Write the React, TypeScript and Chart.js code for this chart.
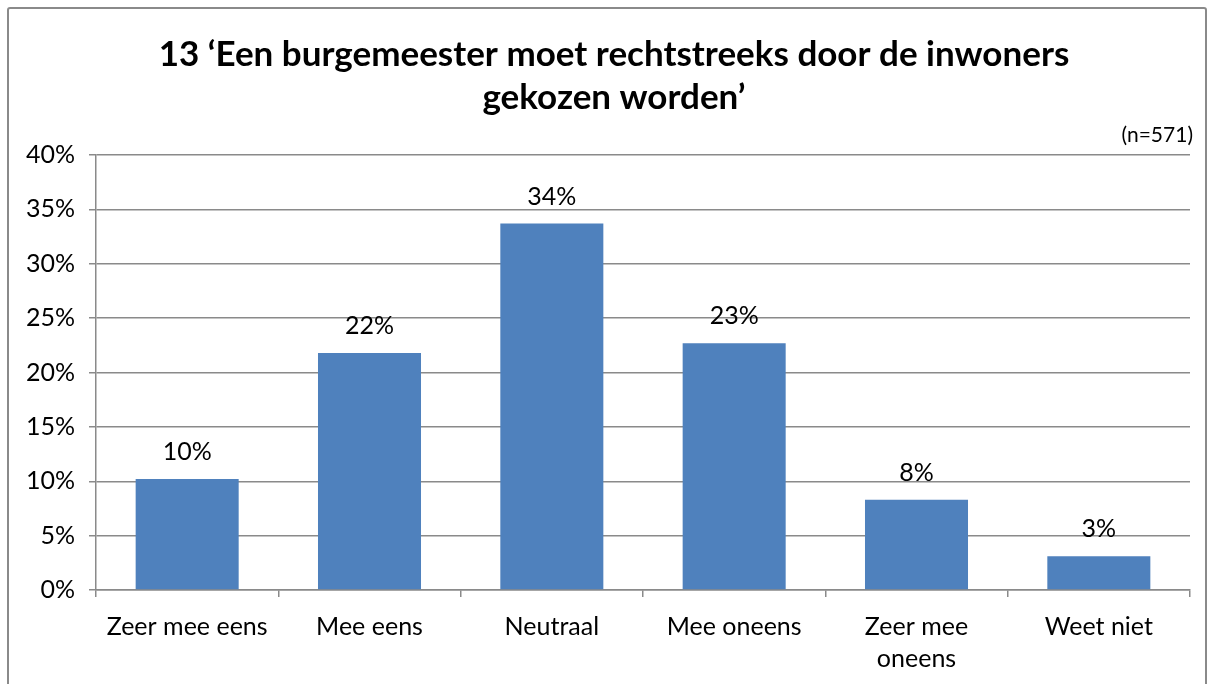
import React, { useEffect, useRef } from "react";
import { Chart, registerables } from "chart.js";

Chart.register(...registerables);

const categories: (string | string[])[] = [
  "Zeer mee eens",
  "Mee eens",
  "Neutraal",
  "Mee oneens",
  ["Zeer mee", "oneens"],
  "Weet niet",
];
const values = [10.2, 21.8, 33.7, 22.7, 8.3, 3.1];
const valueLabels = ["10%", "22%", "34%", "23%", "8%", "3%"];
const yMin = 0;
const yMax = 40;
const yStep = 5;
const titleLines = [
  "13 ‘Een burgemeester moet rechtstreeks door de inwoners",
  "gekozen worden’",
];
const sampleNote = "(n=571)";

const FONT = "Lato, 'Open Sans', sans-serif";
const GRID = "#8a8a8a";

export default function App() {
  const ref = useRef<HTMLCanvasElement | null>(null);

  useEffect(() => {
    if (!ref.current) return;
    const textPlugin = {
      id: "textPlugin",
      afterDraw(chart: any) {
        const ctx = chart.ctx as CanvasRenderingContext2D;
        ctx.save();
        ctx.fillStyle = "#000";
        // title
        ctx.font = `bold 35px ${FONT}`;
        ctx.textAlign = "center";
        ctx.textBaseline = "alphabetic";
        ctx.fillText(titleLines[0], 614, 66);
        ctx.fillText(titleLines[1], 614, 109);
        // sample note
        ctx.font = `21px ${FONT}`;
        ctx.textAlign = "right";
        ctx.fillText(sampleNote, 1193, 142);
        // value labels
        ctx.font = `25px ${FONT}`;
        ctx.textAlign = "center";
        const meta = chart.getDatasetMeta(0);
        meta.data.forEach((bar: any, i: number) => {
          ctx.fillText(valueLabels[i], bar.x, bar.y - 19);
        });
        ctx.restore();
      },
    };

    const chart = new Chart(ref.current, {
      type: "bar",
      data: {
        labels: categories,
        datasets: [
          {
            data: values,
            backgroundColor: "#4F81BD",
            borderWidth: 0,
            categoryPercentage: 1,
            barPercentage: 0.565,
          },
        ],
      },
      options: {
        animation: false,
        responsive: false,
        maintainAspectRatio: false,
        devicePixelRatio: 1,
        layout: { padding: { top: 155, right: 24, left: 0, bottom: 0 } },
        plugins: {
          legend: { display: false },
          tooltip: { enabled: false },
          title: { display: false },
        },
        scales: {
          x: {
            grid: {
              display: true,
              drawOnChartArea: false,
              drawTicks: true,
              tickLength: 7,
              color: GRID,
              lineWidth: 1.5,
              offset: true,
            },
            border: { display: true, color: GRID, width: 1.5 },
            ticks: {
              color: "#000",
              font: { family: FONT, size: 25, lineHeight: 1.28 },
              padding: 14,
              maxRotation: 0,
              autoSkip: false,
            },
            afterFit: (s: any) => {
              s.height = 94;
            },
          },
          y: {
            min: yMin,
            max: yMax,
            ticks: {
              stepSize: yStep,
              color: "#000",
              font: { family: FONT, size: 25 },
              padding: 14,
              callback: (v: any) => `${v}%`,
            },
            grid: { color: GRID, lineWidth: 1.5, tickLength: 7 },
            border: { display: true, color: GRID, width: 1.5 },
            afterFit: (s: any) => {
              s.width = 96;
            },
          },
        },
      },
      plugins: [textPlugin],
    } as any);
    return () => chart.destroy();
  }, []);

  return (
    <div
      style={{
        position: "fixed",
        left: 0,
        top: 0,
        width: 1214,
        height: 684,
        background: "#fff",
        overflow: "hidden",
      }}
    >
      <div
        style={{
          position: "absolute",
          left: 7,
          top: 7,
          width: 1196,
          height: 700,
          border: "2px solid #8a8a8a",
          borderRadius: 3,
        }}
      />
      <canvas
        ref={ref}
        width={1214}
        height={684}
        style={{ position: "absolute", left: 0, top: 0, width: 1214, height: 684 }}
      />
    </div>
  );
}
